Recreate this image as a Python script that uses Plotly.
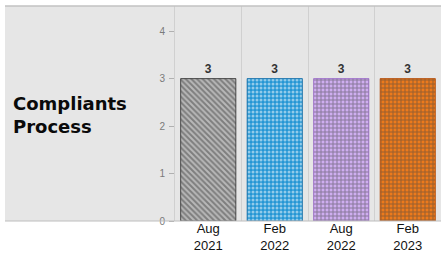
import plotly.graph_objects as go

# ---- data ----
categories = ["Aug<br>2021", "Feb<br>2022", "Aug<br>2022", "Feb<br>2023"]
values = [3, 3, 3, 3]
row_label = "Compliants<br>Process"
y_ticks = [0, 1, 2, 3, 4]

# ---- styles ----
bar_bg = ["#b8b8b8", "#2496d4", "#cfaef0", "#ec7a1c"]
bar_fg = ["#2a2a2a", "#0b64a0", "#9463c6", "#b04604"]
bar_shape = ["\\", ".", "+", "+"]
bar_size = [4, 4, 4, 4]
bar_solidity = [0.5, 0.45, 0.45, 0.45]

W, H = 441, 254
L, R, T, B = 175, 0, 6, 33
pw = W - L - R
ph = H - T - B
left_edge = (5 - L) / pw

fig = go.Figure()
fig.add_trace(go.Bar(
    x=categories,
    y=values,
    marker=dict(
        color=bar_bg,
        line=dict(color=bar_fg, width=0.8),
        pattern=dict(shape=bar_shape, bgcolor=bar_bg, fgcolor=bar_fg,
                     size=bar_size, solidity=bar_solidity, fillmode="overlay"),
    ),
    texttemplate="%{y}",
    textposition="outside",
    textfont=dict(family="Liberation Sans, Arial", size=12, color="#333333", weight="bold"),
    cliponaxis=False,
    hoverinfo="skip",
))

fig.update_layout(
    width=W, height=H, autosize=False,
    margin=dict(l=L, r=R, t=T, b=B, pad=0),
    paper_bgcolor="white",
    plot_bgcolor="#e6e6e6",
    bargap=0.17,
    showlegend=False,
    xaxis=dict(
        type="category", tickson="boundaries", showgrid=True,
        gridcolor="#d0d0d0", gridwidth=1, ticks="", showline=False,
        range=[-0.5, 3.5], zeroline=False, ticklabelstandoff=-2,
        tickfont=dict(family="Liberation Sans, Arial", size=13, color="#111111"),
    ),
    yaxis=dict(
        range=[0, 4.53], tickvals=y_ticks, showgrid=False, zeroline=False,
        ticks="outside", ticklen=5, tickcolor="#b0b0b0", tickwidth=1,
        showline=True, linecolor="#d0d0d0", linewidth=1, ticklabelstandoff=2,
        tickfont=dict(family="Liberation Sans, Arial", size=10, color="#7a7a7a"),
    ),
    shapes=[
        dict(type="rect", xref="paper", yref="paper", x0=left_edge, x1=0, y0=0, y1=1,
             fillcolor="#e6e6e6", line=dict(width=0), layer="below"),
        dict(type="line", xref="paper", yref="paper", x0=left_edge, x1=1, y0=1, y1=1,
             line=dict(color="#c2c2c2", width=1.5)),
        dict(type="line", xref="paper", yref="paper", x0=left_edge, x1=1, y0=0, y1=0,
             line=dict(color="#bdbdbd", width=1.2)),
    ],
)

fig.add_annotation(
    text=row_label, xref="paper", yref="paper", x=(11 - L) / pw,
    y=(H - B - 115) / ph, align="left",
    xanchor="left", yanchor="middle", showarrow=False,
    font=dict(family="DejaVu Sans", size=18, color="#0a0a0a", weight="bold"),
)

fig.write_html("out.html", config={"displayModeBar": False},
               post_script="document.body.style.margin='0';")
